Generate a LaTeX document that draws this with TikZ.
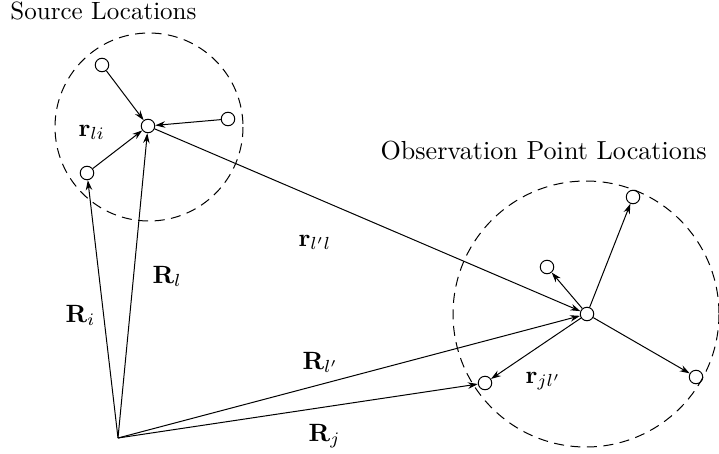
\documentclass[tikz,border=0pt]{standalone}
\usetikzlibrary{arrows.meta}
\begin{document}
\begin{tikzpicture}[x=0.4pt,y=-0.4pt,
  pt/.style={circle,draw,line width=0.4pt,minimum size=5.4pt,inner sep=0pt},
  region/.style={draw,line width=0.4pt,dash pattern=on 4pt off 2.6pt},
  vec/.style={line width=0.4pt,-{Stealth[length=4pt,width=2.6pt]}},
  lbl/.style={inner sep=0pt,anchor=base west}]
\useasboundingbox (0,0) rectangle (719,453);
% regions
\draw[region] (149,127) circle [radius=94];
\draw[region] (586,314) circle [radius=133];
% source points
\node[pt] (l) at (148,126) {};
\node[pt] (s1) at (102,65) {};
\node[pt] (s2) at (228,119) {};
\node[pt] (i) at (87,173) {};
% observation points
\node[pt] (lp) at (587,314) {};
\node[pt] (o1) at (633,197) {};
\node[pt] (o2) at (547,267) {};
\node[pt] (o3) at (696,377) {};
\node[pt] (j) at (485,383) {};
\coordinate (O) at (118,438);
% arrows
\draw[vec] (s1) -- (l);
\draw[vec] (s2) -- (l);
\draw[vec] (i) -- (l);
\draw[vec] (O) -- (i);
\draw[vec] (O) -- (l);
\draw[vec] (l) -- (lp);
\draw[vec] (O) -- (lp);
\draw[vec] (O) -- (j);
\draw[vec] (lp) -- (o1);
\draw[vec] (lp) -- (o2);
\draw[vec] (lp) -- (o3);
\draw[vec] (lp) -- (j);
% labels
\node[lbl] (t1) at (10,19) {Source Locations};
\node[lbl] (t2) at (380,159) {\fontsize{10.45}{12.5}\selectfont Observation Point Locations};
\node[lbl] (a1) at (78,136) {$\mathbf{r}_{li}$};
\node[lbl] (a2) at (152,283) {$\mathbf{R}_{l}$};
\node[lbl] (a3) at (65,322) {$\mathbf{R}_{i}$};
\node[lbl] (a4) at (298,246) {$\mathbf{r}_{l'l}$};
\node[lbl] (a5) at (302,369) {$\mathbf{R}_{l'}$};
\node[lbl] (a6) at (308,441) {$\mathbf{R}_{j}$};
\node[lbl] (a7) at (525,383) {$\mathbf{r}_{jl'}$};
\end{tikzpicture}
\end{document}
